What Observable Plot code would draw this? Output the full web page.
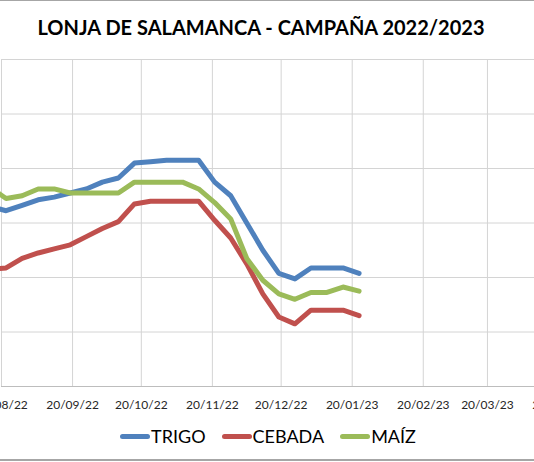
<!DOCTYPE html>
<html><head><meta charset="utf-8">
<script src="https://cdn.jsdelivr.net/npm/d3@7"></script>
<script src="https://cdn.jsdelivr.net/npm/@observablehq/plot@0.6"></script>
<style>
html,body{margin:0;padding:0;background:#fff;}
body{width:534px;height:462px;overflow:hidden;position:relative;font-family:Lato,"Open Sans",sans-serif;}
#frame{position:absolute;left:-4px;top:0;width:545px;height:458px;border-top:1px solid #a6a6a6;border-bottom:2px solid #a6a6a6;}
#title{position:absolute;top:0;left:261px;transform:translateX(-50%);white-space:nowrap;font-weight:700;font-size:20px;line-height:54px;color:#000;}
#chart{position:absolute;top:50px;left:-60px;width:634px;height:366px;}
#chart svg{max-width:none !important;width:634px;height:366px;}
#legend{position:absolute;top:422px;left:0;width:536px;height:28px;display:flex;justify-content:center;align-items:center;gap:16px;font-size:18px;color:#000;}
.item{display:flex;align-items:center;}
.sw{display:inline-block;width:30px;height:5px;border-radius:3px;margin-right:1px;}
</style></head>
<body>
<div id="frame"></div>
<div id="title">LONJA DE SALAMANCA - CAMPAÑA 2022/2023</div>
<div id="chart"></div>
<div id="legend"></div>
<script>
const dates = ["2022-08-15","2022-08-22","2022-08-29","2022-09-05","2022-09-12","2022-09-19","2022-09-26","2022-10-03","2022-10-10","2022-10-17","2022-10-24","2022-10-31","2022-11-07","2022-11-14","2022-11-21","2022-11-28","2022-12-05","2022-12-12","2022-12-19","2022-12-26","2023-01-02","2023-01-09","2023-01-16","2023-01-23"];
const trigo  = [326,324.5,326.5,328.5,329.5,331,332.5,335,336.5,342,342.5,343,343,343,335,330,320,310,301.5,299.5,303.5,303.5,303.5,301.5];
const cebada = [303,303.5,307,309,310.5,312,315,318,320.5,327,328,328,328,328,321,314.5,305,294,285.5,283,288,288,288,286];
const maiz   = [333,329,330,332.5,332.5,331,331,331,331,335,335,335,335,332.5,327.5,321.5,307,299,294,292,294.5,294.5,296.5,295];
const seriesNames = ["TRIGO","CEBADA","MAÍZ"];
const seriesColors = ["#4F81BD","#C0504D","#9BBB59"];
const xTickLabels = ["2022-08-20","2022-09-20","2022-10-20","2022-11-20","2022-12-20","2023-01-20","2023-02-20","2023-03-20","2023-04-20"];
const yTicks = [260,280,300,320,340,360,380];

const xTicks = xTickLabels.map(d => new Date(d));
const seriesValues = [trigo, cebada, maiz];
const rows = [];
seriesValues.forEach((vals, s) => vals.forEach((v, i) => rows.push({date: new Date(dates[i]), value: v, serie: seriesNames[s]})));

const chart = Plot.plot({
  width: 634, height: 366,
  marginTop: 9, marginBottom: 30, marginLeft: 61, marginRight: 16,
  style: {fontFamily: "Lato, 'Open Sans', sans-serif", fontSize: "12px", color: "#262626", background: "transparent", maxWidth: "none"},
  x: {type: "utc", domain: [xTicks[0], xTicks[xTicks.length - 1]], ticks: xTicks, tickFormat: d3.utcFormat("%d/%m/%y"), tickSize: 0, tickPadding: 14, label: null},
  y: {domain: [260, 380], axis: null},
  color: {domain: seriesNames, range: seriesColors},
  marks: [
    Plot.ruleX(xTicks, {stroke: "#d4d4d4", strokeWidth: 1}),
    Plot.ruleY(yTicks, {stroke: "#d4d4d4", strokeWidth: 1}),
    Plot.ruleY([260], {stroke: "#bdbdbd", strokeWidth: 1}),
    Plot.line(rows, {x: "date", y: "value", z: "serie", stroke: "serie", strokeWidth: 5, strokeLinejoin: "round", strokeLinecap: "round"})
  ]
});
document.getElementById("chart").appendChild(chart);

const legend = document.getElementById("legend");
seriesNames.forEach((n, i) => {
  const it = document.createElement("span"); it.className = "item";
  const sw = document.createElement("span"); sw.className = "sw"; sw.style.background = seriesColors[i];
  const tx = document.createElement("span"); tx.textContent = n;
  it.appendChild(sw); it.appendChild(tx); legend.appendChild(it);
});
</script>
</body></html>
